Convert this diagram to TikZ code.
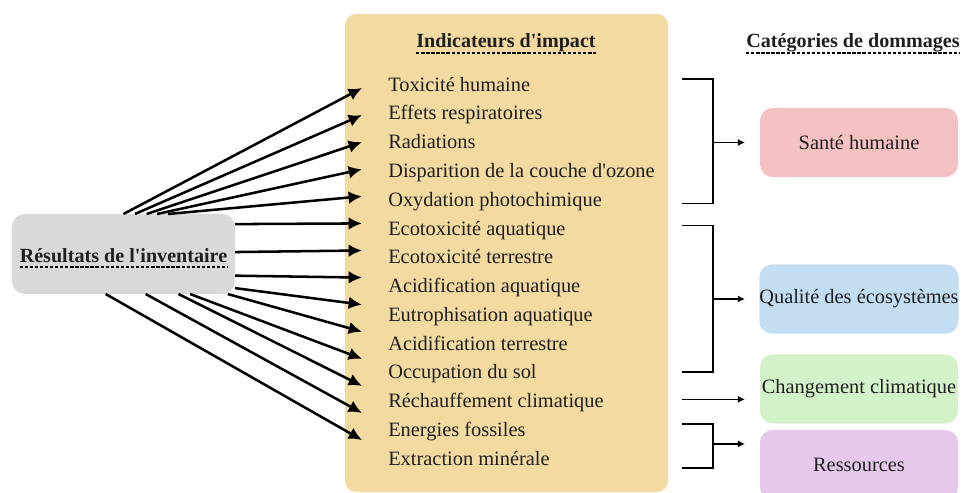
\documentclass[tikz,border=0pt]{standalone}
\usepackage{fontspec}
\setmainfont{Liberation Serif}
\usetikzlibrary{arrows.meta}
\usetikzlibrary{calc}
\definecolor{colinv}{RGB}{217,217,217}
\definecolor{colind}{RGB}{243,218,160}
\definecolor{colsan}{RGB}{244,194,195}
\definecolor{colqua}{RGB}{195,222,242}
\definecolor{colcha}{RGB}{212,242,200}
\definecolor{colres}{RGB}{229,200,236}
\begin{document}
\begin{tikzpicture}[x=0.025cm,y=-0.025cm,>={Latex[length=9.5pt,width=9pt]},
  item/.style={anchor=west,inner sep=0pt,text height=9.6pt,text depth=0pt,text=black!88,font=\fontsize{14.5}{17}\selectfont},
  ttl/.style={anchor=base,inner sep=0pt,text=black!88,font=\fontsize{14.3}{17}\selectfont\bfseries},
  dul/.style={dash pattern=on 2.4pt off 1.2pt,line width=0.9pt},
  cat/.style={rounded corners=9pt,minimum width=4.95cm,minimum height=1.725cm,inner sep=0pt,text=black!88,font=\fontsize{14.5}{17}\selectfont},
  big/.style={->,line width=1.8pt},
  brk/.style={line width=1pt},
  sml/.style={-{Latex[length=5pt,width=5pt]},line width=1pt}]

  \useasboundingbox (0,0) rectangle (963,493);

  % panneau central
  \fill[colind,rounded corners=8pt] (345,14) rectangle (668,492);

  % resultats
  \node[fill=colinv,rounded corners=9pt,minimum width=5.575cm,minimum height=2cm,inner sep=0pt,outer sep=0pt] (inv) at (123.5,254) {};
  \node[ttl] (invt) at (123.5,262) {Résultats de l\textquotesingle inventaire};
  \draw[dul] ($(invt.base west)+(0,5)$) -- ($(invt.base east)+(0,5)$);

  % titres
  \node[ttl] (ttlind) at (506,48) {Indicateurs d\textquotesingle impact};
  \draw[dul] ($(ttlind.base west)+(0,5)$) -- ($(ttlind.base east)+(0,5)$);
  \node[ttl] (ttlcat) at (853,48) {Catégories de dommages};
  \draw[dul] ($(ttlcat.base west)+(0,5)$) -- ($(ttlcat.base east)+(0,5)$);

  % indicateurs
  \foreach \t [count=\k] in {Toxicité humaine,Effets respiratoires,Radiations,
    Disparition de la couche d\textquotesingle ozone,Oxydation photochimique,Ecotoxicité aquatique,
    Ecotoxicité terrestre,Acidification aquatique,Eutrophisation aquatique,
    Acidification terrestre,Occupation du sol,Réchauffement climatique,
    Energies fossiles,Extraction minérale}
  {
    \node[item] (i\k) at (388,{84.5+28.75*(\k-1)}) {\t};
  }

  % fleches
  \foreach \k in {1,...,14}
    \coordinate (t\k) at (362,{88+27.08*(\k-1)});
  \foreach \k/\a in {1/90,2/74,3/60.6,4/50.9,5/42,6/15,7/1.5,8/-11.7,9/-17,
    10/-21.5,11/-31,12/-36,13/-61.7,14/-114.8}
    \draw[big] (inv.\a) -- (t\k);

  % categories
  \node[cat,fill=colsan] (san) at (859,142.5) {Santé humaine};
  \node[cat,fill=colqua] (qua) at (859,299) {Qualité des écosystèmes};
  \node[cat,fill=colcha] (cha) at (859,389) {Changement climatique};
  \node[cat,fill=colres,minimum height=1.75cm] (res) at (859,465) {Ressources};

  % accolades
  \coordinate (bx) at (682,0);
  \coordinate (by) at (713,0);
  \coordinate (bz) at (745,0);
  \draw[brk] ([yshift=4pt]bx |- i1) -| ([yshift=-3pt]by |- i5) -- ([yshift=-3pt]bx |- i5);
  \draw[sml] (by |- san) -- (bz |- san);
  \draw[brk] ([yshift=2pt]bx |- i6) -| (by |- i11) -- (bx |- i11);
  \draw[sml] (by |- qua) -- (bz |- qua);
  \draw[sml] ([yshift=1pt]bx |- i12) -- ([yshift=1pt]bz |- i12);
  \draw[brk] ([yshift=4pt]bx |- i13) -| ([yshift=-7pt]by |- i14) -- ([yshift=-7pt]bx |- i14);
  \coordinate (m3) at ($(i13)!.5!(i14)$);
  \draw[sml] (by |- m3) -- (bz |- m3);

\end{tikzpicture}
\end{document}
